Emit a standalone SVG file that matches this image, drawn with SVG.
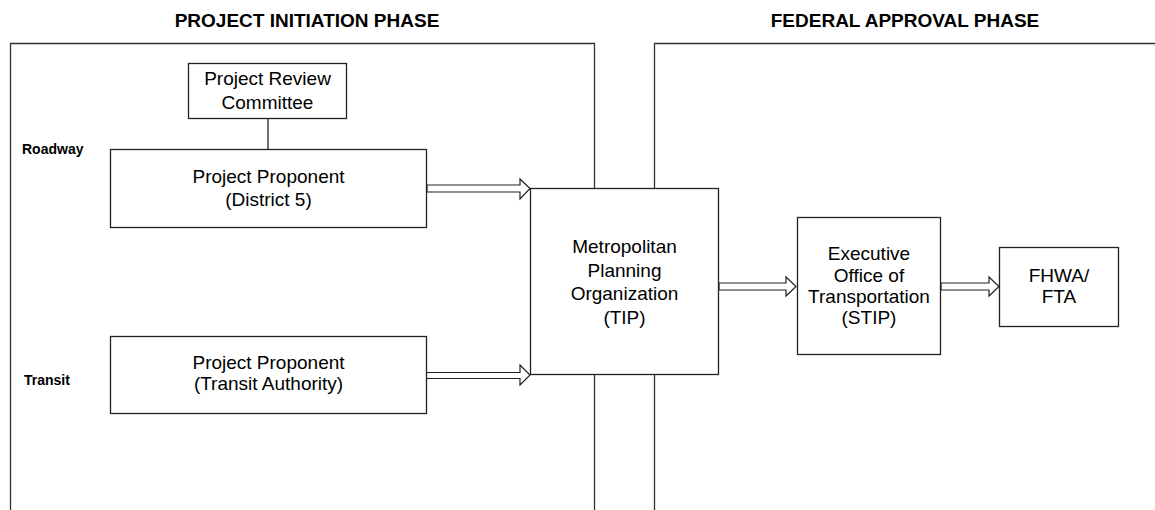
<svg xmlns="http://www.w3.org/2000/svg" width="1155" height="510" viewBox="0 0 1155 510">
<style>
.panel{fill:none;stroke:#333;stroke-width:1.3}
.box{fill:#fff;stroke:#222;stroke-width:1.3}
.arrow{fill:#fff;stroke:#222;stroke-width:1.2;stroke-linejoin:miter}
.line{stroke:#222;stroke-width:1.3;fill:none}
.title{font-family:"Liberation Sans",Arial,sans-serif;font-weight:bold;font-size:19px;fill:#000;text-anchor:middle}
.lbl{font-family:"Liberation Sans",Arial,sans-serif;font-weight:bold;font-size:14px;fill:#000}
.t{font-family:"Liberation Sans",Arial,sans-serif;font-size:19px;fill:#000;text-anchor:middle}
</style>
<rect width="1155" height="510" fill="#fff"/>
<g id="panels">
<path class="panel" d="M10.5,512 V43.5 H594.5 V512"/>
<path class="panel" d="M654.5,512 V43.5 H1160"/>
<text class="title" x="307" y="27">PROJECT INITIATION PHASE</text>
<text class="title" x="905" y="27">FEDERAL APPROVAL PHASE</text>
<text class="lbl" x="22" y="154">Roadway</text>
<text class="lbl" x="24" y="385">Transit</text>
</g>
<g id="connectors">
<line class="line" x1="268" y1="118" x2="268" y2="149"/>
<polygon class="arrow" points="427,185 520,185 520,179 530,188.5 520,199 520,192 427,192"/>
<polygon class="arrow" points="426,372.5 520,372.5 520,365 530,375 520,385 520,378.5 426,378.5"/>
<polygon class="arrow" points="719,283 786,283 786,277 796,286.5 786,296 786,290 719,290"/>
<polygon class="arrow" points="941,283 989,283 989,277 999,286.5 989,296 989,290 941,290"/>
</g>
<g id="prc">
<rect class="box" x="188.5" y="63.5" width="158" height="55"/>
<text class="t" x="267.5" y="85">Project Review</text>
<text class="t" x="267.5" y="109">Committee</text>
</g>
<g id="district5">
<rect class="box" x="110.5" y="149.5" width="316" height="78"/>
<text class="t" x="268.5" y="183">Project Proponent</text>
<text class="t" x="268.5" y="206">(District 5)</text>
</g>
<g id="transit">
<rect class="box" x="110.5" y="336.5" width="316" height="77"/>
<text class="t" x="268.5" y="369">Project Proponent</text>
<text class="t" x="268.5" y="390">(Transit Authority)</text>
</g>
<g id="mpo">
<rect class="box" x="530.5" y="188.5" width="188" height="186"/>
<text class="t" x="624.5" y="253">Metropolitan</text>
<text class="t" x="624.5" y="277">Planning</text>
<text class="t" x="624.5" y="300">Organization</text>
<text class="t" x="624.5" y="324">(TIP)</text>
</g>
<g id="eot">
<rect class="box" x="797.5" y="217.5" width="143" height="137"/>
<text class="t" x="869" y="260">Executive</text>
<text class="t" x="869" y="282">Office of</text>
<text class="t" x="869" y="303">Transportation</text>
<text class="t" x="869" y="324">(STIP)</text>
</g>
<g id="fhwa">
<rect class="box" x="999.5" y="247.5" width="119" height="79"/>
<text class="t" x="1059" y="282">FHWA/</text>
<text class="t" x="1059" y="303">FTA</text>
</g>
</svg>
